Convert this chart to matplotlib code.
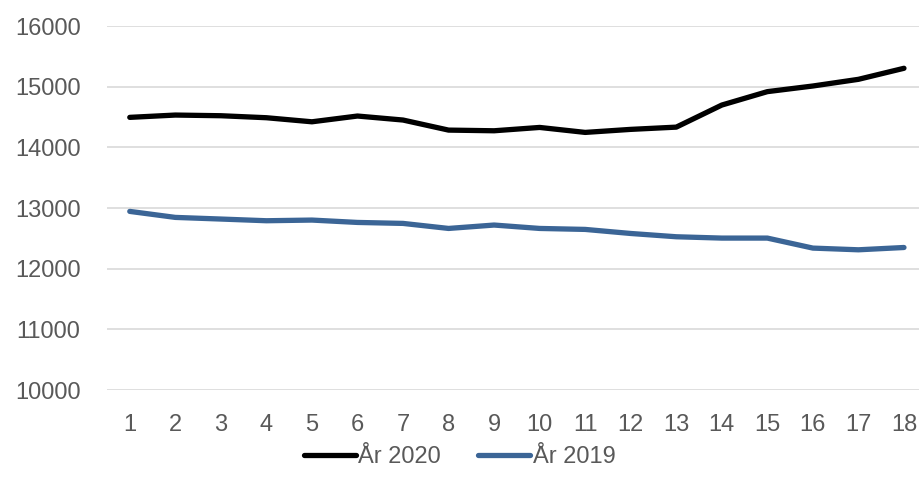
import matplotlib
matplotlib.use("Agg")
import matplotlib.pyplot as plt

weeks = list(range(1, 19))
ar_2020 = [14494, 14532, 14521, 14488, 14421, 14516, 14450, 14284, 14273, 14328,
           14246, 14296, 14333, 14697, 14918, 15011, 15121, 15303]
ar_2019 = [12944, 12845, 12818, 12790, 12801, 12762, 12746, 12663, 12719, 12663,
           12647, 12580, 12526, 12504, 12504, 12339, 12311, 12349]
y_ticks = [10000, 11000, 12000, 13000, 14000, 15000, 16000]

plt.rcParams['font.family'] = ['Liberation Sans Narrow', 'Liberation Sans', 'DejaVu Sans']

fig = plt.figure(figsize=(9.19, 4.94), dpi=100)
ax = fig.add_axes([107 / 919, 1 - 390 / 494, 1 - 107 / 919, (390 - 26) / 494])

ax.plot(weeks, ar_2020, color='black', lw=3.8, label='År 2020', solid_capstyle='round')
ax.plot(weeks, ar_2019, color='#3B6596', lw=3.8, label='År 2019', solid_capstyle='round')

ax.set_ylim(10000, 16000)
ax.set_xlim(0.5, 18.33)
ax.set_yticks(y_ticks)
ax.set_xticks(weeks)
ax.grid(axis='y', color='#D9D9D9', lw=1.2)
ax.set_axisbelow(True)
for s in ax.spines.values():
    s.set_visible(False)
ax.tick_params(length=0, labelsize=17, colors='#595959')
ax.tick_params(axis='x', pad=17)
ax.tick_params(axis='y', pad=19)

fig.legend(loc='center', bbox_to_anchor=(0.5, 1 - 457 / 494), ncol=2, frameon=False,
           fontsize=17, labelcolor='#595959', handlelength=2.2, handletextpad=0.1,
           columnspacing=1.6)

fig.savefig('out.png', dpi=100)
